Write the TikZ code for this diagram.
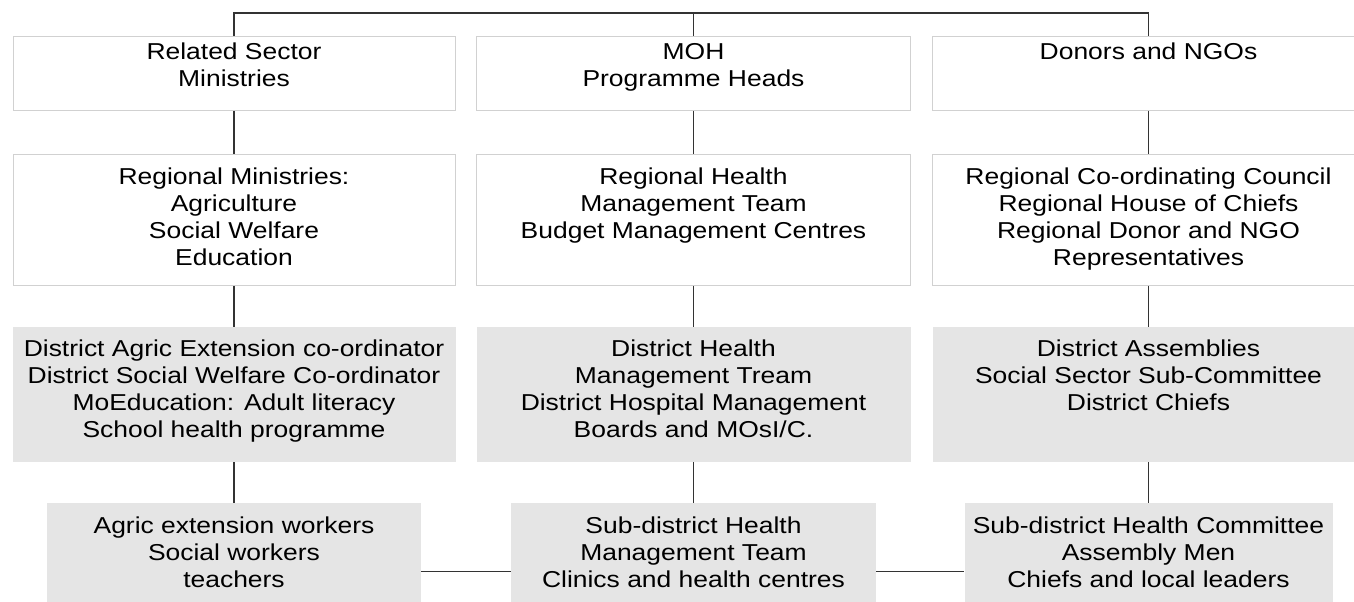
\documentclass[tikz,border=0pt]{standalone}
\usepackage{fontspec}
\setmainfont{Liberation Sans}[FakeStretch=1.15]
\usepackage{tikz}
\usetikzlibrary{positioning}

\begin{document}
\begin{tikzpicture}[x=1pt, y=-1pt,
	wbox/.style={draw=black!18, line width=0.9pt, fill=white, anchor=north, inner sep=0pt},
	gbox/.style={fill=black!10, anchor=north, inner sep=0pt},
	txt/.style={anchor=north, align=center, inner sep=0pt, font=\fontsize{23}{27}\selectfont},
	conn/.style={draw=black!80, line width=1.1pt}]
	\clip (0,0) rectangle (1354,602);
	\fill[white] (0,0) rectangle (1354,602);
	% row 1
	\node[wbox, minimum width=442pt, minimum height=74pt] (r1l) at (234, 36) {};
	\node[wbox, minimum width=434pt, minimum height=74pt] (r1m) at (693.5, 36) {};
	\node[wbox, minimum width=432pt, minimum height=74pt] (r1r) at (1148.5, 36) {};
	\node[txt] (t1l) at ([yshift=-7pt]r1l.north) {Related Sector\\Ministries};
	\node[txt] (t1m) at ([yshift=-7pt]r1m.north) {MOH\\Programme Heads};
	\node[txt] (t1r) at ([yshift=-7pt]r1r.north) {Donors and NGOs};
	% row 2
	\node[wbox, minimum width=442pt, minimum height=131pt] (r2l) at (234, 154) {};
	\node[wbox, minimum width=434pt, minimum height=131pt] (r2m) at (693.5, 154) {};
	\node[wbox, minimum width=432pt, minimum height=131pt] (r2r) at (1148.5, 154) {};
	\node[txt] (t2l) at ([yshift=-14pt]r2l.north) {Regional Ministries:\\Agriculture\\Social Welfare\\Education};
	\node[txt] (t2m) at ([yshift=-14pt]r2m.north) {Regional Health\\Management Team\\Budget Management Centres};
	\node[txt] (t2r) at ([yshift=-14pt]r2r.north) {Regional Co-ordinating Council\\Regional House of Chiefs\\Regional Donor and NGO\\Representatives};
	% row 3
	\node[gbox, minimum width=443pt, minimum height=135pt] (r3l) at (234, 327) {};
	\node[gbox, minimum width=434pt, minimum height=135pt] (r3m) at (693.5, 327) {};
	\node[gbox, minimum width=432pt, minimum height=135pt] (r3r) at (1148.5, 327) {};
	\node[txt] (t3l) at ([yshift=-13pt]r3l.north) {District Agric Extension co-ordinator\\District Social Welfare Co-ordinator\\MoEducation: Adult literacy\\School health programme};
	\node[txt] (t3m) at ([yshift=-13pt]r3m.north) {District Health\\Management Tream\\District Hospital Management\\Boards and MOsI/C.};
	\node[txt] (t3r) at ([yshift=-13pt]r3r.north) {District Assemblies\\Social Sector Sub-Committee\\District Chiefs};
	% row 4
	\node[gbox, minimum width=374pt, minimum height=105pt] (r4l) at (234, 503) {};
	\node[gbox, minimum width=365pt, minimum height=105pt] (r4m) at (693.5, 503) {};
	\node[gbox, minimum width=368pt, minimum height=105pt] (r4r) at (1148.5, 503) {};
	\node[txt] (t4l) at ([yshift=-14pt]r4l.north) {Agric extension workers\\Social workers\\teachers};
	\node[txt] (t4m) at ([yshift=-14pt]r4m.north) {Sub-district Health\\Management Team\\Clinics and health centres};
	\node[txt] (t4r) at ([yshift=-14pt]r4r.north) {Sub-district Health Committee\\Assembly Men\\Chiefs and local leaders};
	% connectors
	\coordinate (top) at (693.5, 13);
	\draw[conn] (r1l.north) |- (top) -| (r1r.north);
	\draw[conn] (top) -- (r1m.north);
	\draw[conn] (r1l.south) -- (r2l.north);
	\draw[conn] (r2l.south) -- (r3l.north);
	\draw[conn] (r3l.south) -- (r4l.north);
	\draw[conn] (r1m.south) -- (r2m.north);
	\draw[conn] (r2m.south) -- (r3m.north);
	\draw[conn] (r3m.south) -- (r4m.north);
	\draw[conn] (r1r.south) -- (r2r.north);
	\draw[conn] (r2r.south) -- (r3r.north);
	\draw[conn] (r3r.south) -- (r4r.north);
	\draw[conn] ([yshift=-16pt]r4l.east) -- ([yshift=-16pt]r4m.west);
	\draw[conn] ([yshift=-16pt]r4m.east) -- ([yshift=-16pt]r4r.west);
\end{tikzpicture}
\end{document}
